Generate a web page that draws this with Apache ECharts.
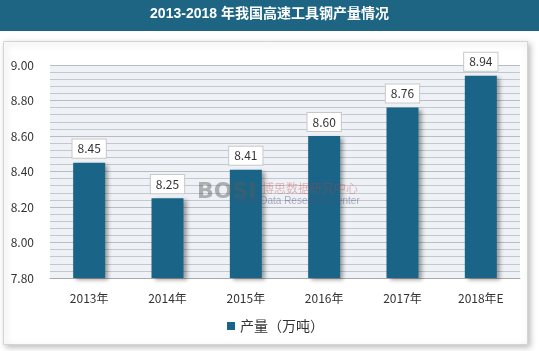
<!DOCTYPE html>
<html>
<head>
<meta charset="utf-8">
<script src="https://cdn.jsdelivr.net/npm/echarts@6/dist/echarts.min.js"></script>
<style>
  html, body { margin: 0; padding: 0; background: #fff; }
  #main { width: 539px; height: 351px; }
</style>
</head>
<body>
<div id="main"></div>
<script>
var years = ['2013年', '2014年', '2015年', '2016年', '2017年', '2018年E'];
var output = [8.45, 8.25, 8.41, 8.60, 8.76, 8.94];
var yTicks = [7.8, 9.0, 0.2];

var chart = echarts.init(document.getElementById('main'));

var option = {
    backgroundColor: '#fff',
    textStyle: { fontFamily: '"Noto Sans CJK SC", "Open Sans", sans-serif' },
    graphic: [
        // 标题栏
        { type: 'rect', left: 0, top: 0, shape: { width: 539, height: 31 }, style: { fill: '#1e6584' }, z: 0 },
        {
            type: 'text', left: 'center', top: 7,
            style: { text: '2013-2018 年我国高速工具钢产量情况', fill: '#fff', font: 'bold 14px "Liberation Sans", "Noto Sans CJK SC"' }
        },
        // 卡片
        {
            type: 'rect', left: 3, top: 41, shape: { width: 524, height: 303 },
            style: { fill: '#fff', stroke: '#d4d4d4', lineWidth: 1, shadowColor: 'rgba(0,0,0,0.25)', shadowBlur: 6, shadowOffsetX: 2, shadowOffsetY: 2 },
            z: -10
        },
        // 水印
        {
            type: 'text', left: 197, top: 181, z: 100,
            style: { text: 'BOSI', fill: 'rgba(90,90,90,0.45)', font: 'bold 22px "DejaVu Sans"' }
        },
        {
            type: 'text', left: 262, top: 182, z: 100,
            style: { text: '博思数据研究中心', fill: 'rgba(200,60,60,0.35)', font: '12px "Noto Sans CJK SC"' }
        },
        {
            type: 'text', left: 238, top: 196, z: 100,
            style: { text: 'Bosi Data Research Center', fill: 'rgba(80,80,120,0.45)', font: '10px "Liberation Sans"' }
        }
    ],
    legend: {
        data: ['产量（万吨）'],
        left: 222, top: 314,
        itemWidth: 8, itemHeight: 8,
        icon: 'rect',
        textStyle: { fontSize: 14, color: '#333' }
    },
    grid: { left: 50, right: 19, top: 65, bottom: 73, backgroundColor: '#eef2f6', show: true, borderWidth: 0 },
    xAxis: {
        type: 'category',
        data: years,
        axisLine: { lineStyle: { color: '#aaa' } },
        axisTick: { show: false },
        axisLabel: { color: '#333', fontSize: 12, margin: 14 }
    },
    yAxis: {
        type: 'value',
        min: yTicks[0], max: yTicks[1], interval: yTicks[2],
        axisLine: { show: false },
        axisTick: { show: false },
        axisLabel: { color: '#333', fontSize: 12, margin: 16, formatter: function (v) { return v.toFixed(2); } },
        splitLine: { lineStyle: { color: '#b9bdc2' } },
        minorTick: { show: false, splitNumber: 5 },
        minorSplitLine: { show: true, lineStyle: { color: '#c4c8cc' } }
    },
    series: [
        {
            name: '产量（万吨）',
            type: 'bar',
            data: output,
            barWidth: 32,
            itemStyle: {
                color: '#1a6587',
                shadowColor: 'rgba(0,0,0,0.35)', shadowBlur: 4, shadowOffsetX: 3, shadowOffsetY: 2
            },
            label: {
                show: true, position: 'top', distance: 5,
                formatter: function (p) { return p.value.toFixed(2); },
                backgroundColor: '#fff', borderColor: '#c8c8c8', borderWidth: 1,
                padding: [3, 5], color: '#333', fontSize: 12
            }
        }
    ]
};

chart.setOption(option);
</script>
</body>
</html>
